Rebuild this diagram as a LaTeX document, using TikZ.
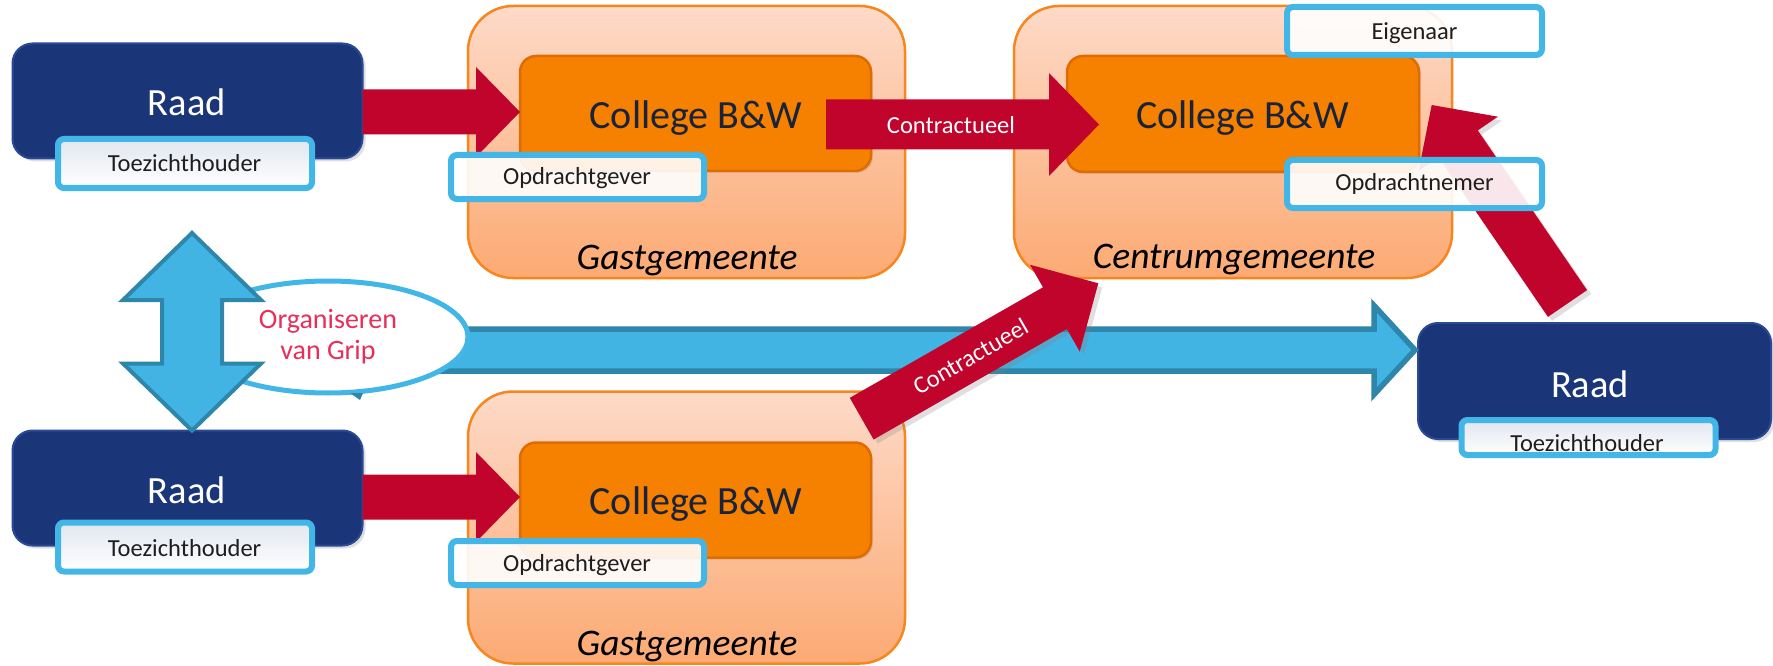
\documentclass[tikz,border=0pt]{standalone}
\usepackage{fontspec}
\setmainfont{Carlito}
\usetikzlibrary{calc,shapes.geometric,shadows}

\definecolor{peachtop}{RGB}{253,218,200}
\definecolor{peachbot}{RGB}{252,170,115}
\definecolor{peachedge}{RGB}{247,134,30}
\definecolor{raadblue}{RGB}{26,54,120}
\definecolor{raadedge}{RGB}{42,74,150}
\definecolor{colorange}{RGB}{246,128,0}
\definecolor{coledge}{RGB}{222,108,0}
\definecolor{skyfill}{RGB}{66,180,228}
\definecolor{skyedge}{RGB}{46,134,171}
\definecolor{lblblue}{RGB}{66,182,230}
\definecolor{arrowred}{RGB}{192,4,44}
\definecolor{gripred}{RGB}{232,46,90}
\definecolor{toetop}{RGB}{226,231,240}
\definecolor{coltext}{RGB}{25,35,60}
\definecolor{lbltext}{RGB}{30,30,30}

% block arrow: #1 tail, #2 tip, #3 shaft half width, #4 head half width, #5 head length, #6 style
\newcommand\blockarr[6]{%
  \coordinate (ba-c) at ($(#2)!#5!(#1)$);
  \path[#6] ($(#1)!#3!90:(#2)$) -- ($(ba-c)!#3!90:(#2)$) -- ($(ba-c)!#4!90:(#2)$) -- (#2)
    -- ($(ba-c)!#4!-90:(#2)$) -- ($(ba-c)!#3!-90:(#2)$) -- ($(#1)!#3!-90:(#2)$) -- cycle;}
% double block arrow: #1 one tip, #2 other tip, #3 shaft half, #4 head half, #5 head length, #6 style
\newcommand\dblarr[6]{%
  \coordinate (da-a) at ($(#1)!#5!(#2)$);
  \coordinate (da-b) at ($(#2)!#5!(#1)$);
  \path[#6] (#1) -- ($(da-a)!#4!90:(#2)$) -- ($(da-a)!#3!90:(#2)$) -- ($(da-b)!#3!-90:(#1)$)
    -- ($(da-b)!#4!-90:(#1)$) -- (#2) -- ($(da-b)!#4!90:(#1)$) -- ($(da-b)!#3!90:(#1)$)
    -- ($(da-a)!#3!-90:(#2)$) -- ($(da-a)!#4!-90:(#2)$) -- cycle;}

\begin{document}
\begin{tikzpicture}[x=1pt,y=-1pt,
  peach/.style={draw=peachedge, line width=2.5pt, rounded corners=45pt, top color=peachtop,
    bottom color=peachbot, minimum width=437pt, minimum height=272pt, inner sep=0pt, outer sep=0pt},
  raadbox/.style={fill=raadblue, draw=raadedge, line width=2pt, rounded corners=20pt,
    minimum width=350pt, minimum height=115pt, inner sep=0pt, outer sep=0pt,
    drop shadow={opacity=0.25,shadow xshift=3pt,shadow yshift=-3pt}},
  colbox/.style={fill=colorange, draw=coledge, line width=2.5pt, rounded corners=16pt,
    minimum width=351pt, minimum height=115pt, inner sep=0pt, outer sep=0pt,
    drop shadow={opacity=0.2,shadow xshift=2pt,shadow yshift=-2pt}},
  lblbox/.style={draw=lblblue, line width=6pt, rounded corners=6pt, fill=white, fill opacity=0.9,
    minimum width=255pt, minimum height=48pt, inner sep=0pt, outer sep=0pt},
  toebox/.style={lblbox, top color=toetop, bottom color=white, minimum width=254pt, minimum height=49pt},
  redarrow/.style={fill=arrowred},
  redshadow/.style={fill=arrowred, drop shadow={opacity=0.25,shadow xshift=4pt,shadow yshift=-4pt}},
  skyarrow/.style={fill=skyfill, draw=skyedge, line join=miter},
  bigw/.style={anchor=base, inner sep=0pt, text=white, font=\fontsize{38.5}{40}\selectfont},
  bigo/.style={anchor=base, inner sep=0pt, text=coltext, font=\fontsize{40}{42}\selectfont},
  gem/.style={anchor=base, inner sep=0pt, text=black, font=\fontsize{37.5}{40}\selectfont\itshape},
  small/.style={anchor=base, inner sep=0pt, text=lbltext, font=\fontsize{24.5}{26}\selectfont},
  wsmall/.style={inner sep=0pt, text=white, font=\fontsize{24.5}{26}\selectfont}
]
\fill[white] (0,0) rectangle (1773,666);
\useasboundingbox (0,0) rectangle (1773,666);

% municipality frames
\node[peach] (gast1) at (686.5,142) {};
\node[peach] (gast2) at (686.5,527.5) {};
\node[peach, minimum width=438pt] (centrum) at (1233,142) {};

% councils
\node[raadbox] (raad1) at (187.5,101) {};
\node[raadbox] (raad2) at (187.5,488) {};
\node[raadbox, minimum width=353pt, minimum height=116pt] (raad3) at (1594.5,381) {};

% executive boards
\node[colbox] (col1) at (695.5,113.5) {};
\node[colbox] (col2) at (695.5,500) {};
\node[colbox, minimum width=352pt, minimum height=116pt] (col3) at (1243,114) {};

% blue horizontal arrow
\coordinate (gtail) at (430,350);
\coordinate (gtip) at ($(raad3.west)+(-3,-31)$);
\blockarr{gtail}{gtip}{21pt}{44.5pt}{41pt}{skyarrow, line width=5.5pt}

% callout
\node[ellipse, draw=lblblue, line width=5pt, fill=white, minimum width=280pt, minimum height=112pt,
  inner sep=0pt, font=\fontsize{28}{31}\selectfont, text=gripred, align=center] (grip) at (328,337)
  {Organiseren\\van Grip};
\fill[skyedge] (350,393) -- (363,393) -- (360,400) -- cycle;

% vertical double arrow
\coordinate (dtop) at (192,233);
\coordinate (dbot) at (dtop |- raad2.north);
\dblarr{dtop}{dbot}{30pt}{69pt}{67pt}{skyarrow, line width=4pt}

% red arrows
\coordinate (r1t) at ($(raad1.east)+(0,11)$);
\coordinate (r1h) at (col1.west |- r1t);
\blockarr{r1t}{r1h}{22.5pt}{45pt}{44pt}{redarrow}
\coordinate (r2t) at ($(raad2.east)+(0,9)$);
\coordinate (r2h) at (col2.west |- r2t);
\blockarr{r2t}{r2h}{22.5pt}{45pt}{44pt}{redarrow}
\coordinate (c1t) at ($(col1.east)+(-45,11)$);
\coordinate (c1h) at ($(col3.west |- c1t)+(32,0)$);
\blockarr{c1t}{c1h}{25pt}{51.5pt}{50pt}{redarrow}
\coordinate (c2t) at ($(gast2.north east)+(-43.3,27.2)$);
\coordinate (c2h) at ($(centrum.south west)+(84.3,5.3)$);
\blockarr{c2t}{c2h}{24pt}{50pt}{50pt}{redshadow}
\coordinate (c3t) at ($(raad3.north)+(-27,-19.5)$);
\coordinate (c3h) at ($(col3.east)+(12.7,-9)$);
\blockarr{c3t}{c3h}{23.7pt}{48pt}{47pt}{redshadow}

% role labels
\node[toebox] (toe1) at (185,163.5) {};
\node[toebox] (toe2) at (185,547) {};
\node[toebox, minimum height=35pt] (toe3) at (1588.5,437.5) {};
\node[lblbox, minimum width=253pt, minimum height=44pt] (opd1) at (577.5,177) {};
\node[lblbox, minimum width=253pt, minimum height=44pt] (opd2) at (577.5,563) {};
\node[lblbox] (eig) at (1414.5,31) {};
\node[lblbox] (nem) at (1414.5,184) {};

% texts
\node[bigw] (traad1) at (187,116) {Raad};
\node[bigw] (traad2) at (187,503) {Raad};
\node[bigw] (traad3) at (1590,397) {Raad};
\node[bigo] (tcol1) at (696,128.3) {College B\&W};
\node[bigo] (tcol2) at (696,514.5) {College B\&W};
\node[bigo] (tcol3) at (1242.5,128.3) {College B\&W};
\node[gem] (tgast1) at (687,269.3) {Gastgemeente};
\node[gem] (tgast2) at (687,655) {Gastgemeente};
\node[gem] (tcent) at (1234,268.3) {Centrumgemeente};
\node[small] (ttoe1) at (184.6,171.7) {Toezichthouder};
\node[small] (ttoe2) at (184.6,556) {Toezichthouder};
\node[small] (ttoe3) at (1587,451.7) {Toezichthouder};
\node[small] (topd1) at (577,185) {Opdrachtgever};
\node[small] (topd2) at (577,571) {Opdrachtgever};
\node[small] (teig) at (1414.5,39.3) {Eigenaar};
\node[small] (tnem) at (1414.5,190.7) {Opdrachtnemer};
\node[wsmall, anchor=base] (tcon1) at (951,133.3) {Contractueel};
\node[wsmall, rotate=29.9] (tcon2) at ($(c2t)!0.46!(c2h)$) {Contractueel};
\end{tikzpicture}
\end{document}
